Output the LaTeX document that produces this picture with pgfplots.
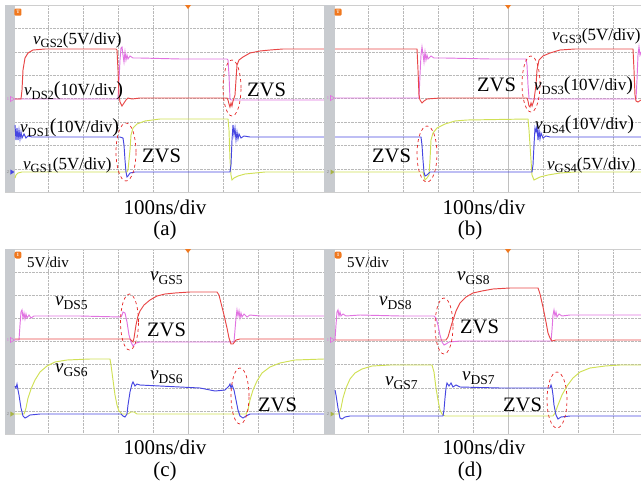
\documentclass[border=0pt]{standalone}
\usepackage{pgfplots}
\pgfplotsset{compat=1.18}
\usepackage{fontspec}
\setmainfont{Liberation Serif}
\definecolor{redc}{RGB}{232,70,70}
\definecolor{pinkc}{RGB}{225,115,225}
\definecolor{bluec}{RGB}{70,70,225}
\definecolor{yelc}{RGB}{208,224,85}
\definecolor{barc}{RGB}{200,203,207}
\definecolor{gridc}{RGB}{185,185,185}
\definecolor{ellc}{RGB}{228,35,35}
\definecolor{orangec}{RGB}{240,120,30}
\newcommand{\lv}[1]{\textit{v}\raisebox{-0.2em}{\fontsize{12.5}{12}\selectfont #1}}
\newcommand{\lw}[1]{\textit{v}\raisebox{-0.2em}{\fontsize{13.5}{13}\selectfont #1}}
\newcommand{\lfa}{\fontsize{17}{17}\selectfont}
\newcommand{\lfb}{\fontsize{19}{19}\selectfont}
\newcommand{\zf}{\fontsize{20.5}{20.5}\selectfont}
\newcommand{\bp}[1]{{\fontsize{20}{20}\selectfont #1}}
\pgfplotsset{osc/.style={scale only axis, y dir=reverse, clip=false,
  axis line style={draw=gridc!70, line width=0.6pt},
  major tick length=0pt, xticklabels={}, yticklabels={},
  grid=major, major grid style={densely dotted, gridc, line width=0.6pt},
  every axis plot/.append style={line width=0.95pt, mark=none}}}
\begin{document}
\begin{tikzpicture}
\path[use as bounding box] (0,0) rectangle (641pt,-487pt);
% ---------------- panel (a)
\begin{axis}[osc, at={(5pt,-5pt)}, anchor=north west, width=319pt, height=187pt,
  xmin=5, xmax=324, ymin=5, ymax=192,
  xtick={48,83,118,153,223,258,293}, ytick={28.4,51.8,75.2,98.6,122,145.4,168.8}]
\fill[barc] (axis cs:5,5) rectangle (axis cs:15,192);
\draw[gridc!90, line width=0.6pt] (axis cs:188,5) -- (axis cs:188,192);
\addplot[pinkc] coordinates {(15,99) (118,99) (119,80) (120,60) (121,48) (122,47) (123,55) (124,62) (125,52) (126,60) (127,55) (128,59) (130,56) (133,58) (140,58) (180,59) (227,59) (228,60) (229,75) (230,99) (231,100) (324,100)};
\addplot[redc] coordinates {(15,99) (21,99) (22,90) (23,70) (25,58) (28,53) (33,50) (45,49) (116,49) (117,50) (118,70) (119,95) (120,102) (122,106) (124,103) (126,100) (128,98) (132,99) (140,98) (227,98) (228,100) (229,104) (230,107) (231,103) (232,106) (233,101) (235,95) (236,80) (237,65) (239,60) (243,57) (250,53) (260,51) (270,50) (283,49) (324,49)};
\addplot[yelc] coordinates {(15,178) (16,175) (18,173) (22,172) (127,172) (128,170) (130,150) (131,135) (133,128) (137,124) (145,121) (160,119) (228,119) (229,130) (230,160) (231,175) (232,180) (234,178) (238,176) (245,174) (255,173) (265,172) (324,172)};
\addplot[bluec] coordinates {(15,125) (16,140) (17,128) (18,140) (19,130) (20,139) (21,132) (22,138) (24,134) (26,138) (28,136) (32,137) (60,137) (120,137) (123,138) (124,145) (125,160) (126,172) (127,177) (128,176) (130,173) (135,172) (230,172) (231,165) (232,140) (233,125) (234,135) (235,128) (236,140) (237,132) (238,139) (239,134) (241,138) (244,136) (250,137) (324,137)};
\draw[ellc, dashed, line width=0.7pt] (axis cs:232,88) ellipse [x radius=9pt, y radius=28pt];
\draw[ellc, dashed, line width=0.7pt] (axis cs:126,152) ellipse [x radius=10pt, y radius=29pt];
\node[anchor=west, inner sep=0] at (axis cs:33,40) {\lfa\lv{GS2}(5V/div)};
\node[anchor=west, inner sep=0] at (axis cs:24,91) {\lfa\lv{DS2}\bp{(}10V/div\bp{)}};
\node[anchor=west, inner sep=0] at (axis cs:247,90) {\zf ZVS};
\node[anchor=west, inner sep=0] at (axis cs:20,128) {\lfa\lv{DS1}\bp{(}10V/div\bp{)}};
\node[anchor=west, inner sep=0] at (axis cs:142,156) {\zf ZVS};
\node[anchor=west, inner sep=0] at (axis cs:23,165) {\lfa\lv{GS1}(5V/div)};
\fill[orangec, rounded corners=1pt] (axis cs:14.5,8.5) rectangle (axis cs:21.5,15.5);
\node[text=white, inner sep=0, font=\fontsize{5}{5}\selectfont\bfseries] at (axis cs:18,12) {T};
\fill[orangec] (axis cs:185,5) -- (axis cs:191,5) -- (axis cs:188,9) -- cycle;
\node[text=pinkc, inner sep=0, font=\fontsize{4.5}{4.5}\selectfont] at (axis cs:8,99) {1};
\draw[pinkc, line width=0.6pt] (axis cs:10.5,96.5) -- (axis cs:14.5,99) -- (axis cs:10.5,101.5) -- cycle;
\node[text=gray, inner sep=0, font=\fontsize{4.5}{4.5}\selectfont] at (axis cs:8,172) {2};
\fill[bluec] (axis cs:10.5,169.5) -- (axis cs:14.5,172) -- (axis cs:10.5,174.5) -- cycle;
\end{axis}
% ---------------- panel (b)
\begin{axis}[osc, at={(324pt,-5pt)}, anchor=north west, width=317pt, height=187pt,
  xmin=324, xmax=641, ymin=5, ymax=192,
  xtick={368,403,438,473,543,578,613}, ytick={28.4,51.8,75.2,98.6,122,145.4,168.8}]
\fill[barc] (axis cs:324,5) rectangle (axis cs:335,192);
\draw[gridc!90, line width=0.6pt] (axis cs:508,5) -- (axis cs:508,192);
\addplot[pinkc] coordinates {(335,98) (419,98) (420,75) (421,55) (422,47) (423,54) (424,62) (425,52) (426,60) (427,55) (428,59) (431,56) (434,58) (445,58) (490,59) (526,59) (527,65) (528,85) (529,98) (530,99) (636,99) (637,80) (638,55) (639,47) (640,55) (641,52)};
\addplot[redc] coordinates {(335,49) (417,49) (418,70) (419,95) (420,100) (422,103) (424,101) (427,99) (440,98) (527,98) (528,101) (529,106) (530,107) (531,103) (532,106) (534,100) (536,85) (537,70) (539,60) (543,56) (550,53) (560,50) (575,49) (633,49) (634,70) (635,95) (636,101) (638,102) (641,100)};
\addplot[yelc] coordinates {(335,172) (423,172) (424,176) (425,180) (427,178) (429,175) (430,160) (431,140) (433,133) (437,128) (445,124) (455,121) (467,120) (528,119) (529,130) (531,160) (532,175) (534,180) (536,179) (540,177) (548,175) (560,173) (575,172) (641,172)};
\addplot[bluec] coordinates {(335,137) (421,137) (422,145) (423,160) (424,172) (425,176) (427,175) (430,172) (440,172) (532,172) (533,165) (534,145) (535,128) (536,132) (537,126) (538,140) (539,130) (540,139) (541,133) (543,138) (546,136) (550,137) (641,137)};
\draw[ellc, dashed, line width=0.7pt] (axis cs:531,84) ellipse [x radius=9pt, y radius=28pt];
\draw[ellc, dashed, line width=0.7pt] (axis cs:427,154) ellipse [x radius=10pt, y radius=28pt];
\node[anchor=west, inner sep=0] at (axis cs:552,36) {\lfa\lv{GS3}(5V/div)};
\node[anchor=west, inner sep=0] at (axis cs:477,85) {\zf ZVS};
\node[anchor=west, inner sep=0] at (axis cs:534,86) {\lfa\lv{DS3}\bp{(}10V/div\bp{)}};
\node[anchor=west, inner sep=0] at (axis cs:535,125) {\lfa\lv{DS4}\bp{(}10V/div\bp{)}};
\node[anchor=west, inner sep=0] at (axis cs:372,156) {\zf ZVS};
\node[anchor=west, inner sep=0] at (axis cs:547,165) {\lfa\lv{GS4}(5V/div)};
\fill[orangec, rounded corners=1pt] (axis cs:334.5,8.5) rectangle (axis cs:341.5,15.5);
\node[text=white, inner sep=0, font=\fontsize{5}{5}\selectfont\bfseries] at (axis cs:338,12) {T};
\fill[orangec] (axis cs:505,5) -- (axis cs:511,5) -- (axis cs:508,9) -- cycle;
\node[text=pinkc, inner sep=0, font=\fontsize{4.5}{4.5}\selectfont] at (axis cs:328,98) {1};
\draw[pinkc, line width=0.6pt] (axis cs:330.5,95.5) -- (axis cs:334.5,98) -- (axis cs:330.5,100.5) -- cycle;
\node[text=gray, inner sep=0, font=\fontsize{4.5}{4.5}\selectfont] at (axis cs:328,172) {2};
\fill[yelc!80!black] (axis cs:330.5,169.5) -- (axis cs:334.5,172) -- (axis cs:330.5,174.5) -- cycle;
\end{axis}
% ---------------- panel (c)
\begin{axis}[osc, at={(5pt,-249pt)}, anchor=north west, width=319pt, height=185pt,
  xmin=5, xmax=324, ymin=249, ymax=434,
  xtick={48,83,118,153,223,258,293}, ytick={272.1,295.2,318.4,341.5,364.6,387.8,410.9}]
\fill[barc] (axis cs:5,249) rectangle (axis cs:15,434);
\draw[gridc!90, line width=0.6pt] (axis cs:188,249) -- (axis cs:188,434);
\addplot[pinkc] coordinates {(15,340) (19,340) (20,325) (21,312) (22,310) (23,318) (24,313) (25,319) (26,314) (27,318) (29,315) (31,318) (34,316) (40,316) (80,316) (121,317) (122,315) (123,312) (125,313) (127,322) (129,335) (131,342) (133,346) (136,343) (140,342) (232,342) (234,342) (235,330) (236,318) (237,310) (238,316) (239,311) (240,318) (241,313) (242,317) (244,314) (247,317) (250,315) (260,316) (324,316)};
\addplot[redc] coordinates {(15,339) (130,339) (132,341) (133,342) (134,338) (136,325) (138,316) (140,311) (144,305) (150,300) (157,296) (165,294) (175,293) (190,292) (217,292) (219,295) (221,303) (224,315) (227,328) (229,338) (231,344) (233,344) (236,340) (240,339) (324,339)};
\addplot[yelc] coordinates {(15,414) (24,414) (26,408) (28,398) (31,389) (35,380) (40,372) (47,366) (55,362) (67,360) (90,359) (110,359) (111,365) (113,380) (115,395) (117,405) (119,411) (122,414) (128,414) (131,412) (134,412) (137,414) (150,414) (246,414) (248,410) (250,400) (253,390) (257,381) (262,373) (270,367) (280,363) (295,360) (324,359)};
\addplot[bluec] coordinates {(15,386) (16,388) (17,384) (18,390) (19,395) (21,408) (23,416) (25,418) (27,417) (30,415) (40,414) (121,414) (123,416) (125,417) (127,414) (128,405) (130,392) (132,384) (133,382) (135,386) (137,384) (140,385) (160,386) (200,388) (215,391) (225,390) (229,386) (230,384) (231,388) (232,385) (234,390) (236,400) (238,410) (240,416) (243,418) (246,416) (250,414) (324,414)};
\draw[ellc, dashed, line width=0.7pt] (axis cs:129.5,322) ellipse [x radius=9pt, y radius=28pt];
\draw[ellc, dashed, line width=0.7pt] (axis cs:240,396) ellipse [x radius=9pt, y radius=28pt];
\node[anchor=west, inner sep=0] at (axis cs:27,262) {\fontsize{15}{15}\selectfont 5V/div};
\node[anchor=west, inner sep=0] at (axis cs:150,278) {\lfb\lw{GS5}};
\node[anchor=west, inner sep=0] at (axis cs:55,303) {\lfb\lw{DS5}};
\node[anchor=west, inner sep=0] at (axis cs:147,330) {\zf ZVS};
\node[anchor=west, inner sep=0] at (axis cs:55,370) {\lfb\lw{GS6}};
\node[anchor=west, inner sep=0] at (axis cs:150,377) {\lfb\lw{DS6}};
\node[anchor=west, inner sep=0] at (axis cs:258,405) {\zf ZVS};
\fill[orangec, rounded corners=2pt] (axis cs:14.5,251.5) rectangle (axis cs:21.5,258.5);
\node[text=white, inner sep=0, font=\fontsize{5}{5}\selectfont\bfseries] at (axis cs:18,255) {1};
\fill[orangec] (axis cs:185,249) -- (axis cs:191,249) -- (axis cs:188,253) -- cycle;
\node[text=pinkc, inner sep=0, font=\fontsize{4.5}{4.5}\selectfont] at (axis cs:8,340) {1};
\draw[pinkc, line width=0.6pt] (axis cs:10.5,337.5) -- (axis cs:14.5,340) -- (axis cs:10.5,342.5) -- cycle;
\node[text=gray, inner sep=0, font=\fontsize{4.5}{4.5}\selectfont] at (axis cs:8,414) {2};
\fill[yelc!80!black] (axis cs:10.5,411.5) -- (axis cs:14.5,414) -- (axis cs:10.5,416.5) -- cycle;
\end{axis}
% ---------------- panel (d)
\begin{axis}[osc, at={(324pt,-249pt)}, anchor=north west, width=317pt, height=185pt,
  xmin=324, xmax=641, ymin=249, ymax=434,
  xtick={368,403,438,473,543,578,613}, ytick={272.1,295.2,318.4,341.5,364.6,387.8,410.9}]
\fill[barc] (axis cs:324,249) rectangle (axis cs:335,434);
\draw[gridc!90, line width=0.6pt] (axis cs:508,249) -- (axis cs:508,434);
\addplot[pinkc] coordinates {(335,340) (336,325) (337,312) (338,310) (339,316) (340,312) (341,316) (343,314) (346,316) (360,315) (400,316) (434,316) (436,318) (438,325) (440,335) (442,342) (444,345) (446,344) (449,342) (460,341) (551,341) (552,330) (553,315) (554,310) (555,316) (556,312) (557,317) (559,314) (562,316) (570,315) (641,315)};
\addplot[redc] coordinates {(335,340) (446,340) (448,337) (450,330) (452,323) (456,311) (460,303) (466,297) (473,293) (482,291) (493,289) (510,288) (538,288) (540,294) (543,307) (546,322) (548,333) (550,338) (552,341) (556,340) (641,340)};
\addplot[yelc] coordinates {(335,414) (339,414) (341,408) (343,398) (346,388) (350,379) (355,373) (362,369) (372,366) (390,365) (432,365) (434,372) (436,388) (438,400) (440,410) (442,414) (445,416) (553,416) (555,413) (558,405) (562,395) (567,386) (573,378) (580,372) (590,368) (605,366) (620,365) (641,365)};
\addplot[bluec] coordinates {(335,390) (336,395) (338,408) (340,418) (342,419) (345,417) (350,416) (443,416) (444,410) (445,398) (446,388) (447,383) (449,386) (451,383) (453,387) (456,385) (460,387) (500,388) (550,388) (551,385) (552,388) (553,395) (554,405) (556,415) (558,419) (561,417) (570,416) (641,416)};
\draw[ellc, dashed, line width=0.7pt] (axis cs:444,326) ellipse [x radius=9pt, y radius=28pt];
\draw[ellc, dashed, line width=0.7pt] (axis cs:557,400) ellipse [x radius=10pt, y radius=28pt];
\node[anchor=west, inner sep=0] at (axis cs:347,262) {\fontsize{15}{15}\selectfont 5V/div};
\node[anchor=west, inner sep=0] at (axis cs:457,278) {\lfb\lw{GS8}};
\node[anchor=west, inner sep=0] at (axis cs:379,303) {\lfb\lw{DS8}};
\node[anchor=west, inner sep=0] at (axis cs:460,327) {\zf ZVS};
\node[anchor=west, inner sep=0] at (axis cs:385,383) {\lfb\lw{GS7}};
\node[anchor=west, inner sep=0] at (axis cs:462,378) {\lfb\lw{DS7}};
\node[anchor=west, inner sep=0] at (axis cs:503,405) {\zf ZVS};
\fill[orangec, rounded corners=2pt] (axis cs:334.5,251.5) rectangle (axis cs:341.5,258.5);
\node[text=white, inner sep=0, font=\fontsize{5}{5}\selectfont\bfseries] at (axis cs:338,255) {1};
\fill[orangec] (axis cs:505,249) -- (axis cs:511,249) -- (axis cs:508,253) -- cycle;
\node[text=pinkc, inner sep=0, font=\fontsize{4.5}{4.5}\selectfont] at (axis cs:328,340) {1};
\draw[pinkc, line width=0.6pt] (axis cs:330.5,337.5) -- (axis cs:334.5,340) -- (axis cs:330.5,342.5) -- cycle;
\node[text=gray, inner sep=0, font=\fontsize{4.5}{4.5}\selectfont] at (axis cs:328,414) {2};
\fill[yelc!80!black] (axis cs:330.5,411.5) -- (axis cs:334.5,414) -- (axis cs:330.5,416.5) -- cycle;
\end{axis}
% ---------------- captions
\node[font=\fontsize{21}{21}\selectfont, inner sep=0] at (165pt,-207pt) {100ns/div};
\node[font=\fontsize{21}{21}\selectfont, inner sep=0] at (165pt,-230pt) {(a)};
\node[font=\fontsize{21}{21}\selectfont, inner sep=0] at (484pt,-207pt) {100ns/div};
\node[font=\fontsize{21}{21}\selectfont, inner sep=0] at (470pt,-230pt) {(b)};
\node[font=\fontsize{21}{21}\selectfont, inner sep=0] at (165pt,-447pt) {100ns/div};
\node[font=\fontsize{21}{21}\selectfont, inner sep=0] at (165pt,-471pt) {(c)};
\node[font=\fontsize{21}{21}\selectfont, inner sep=0] at (484pt,-447pt) {100ns/div};
\node[font=\fontsize{21}{21}\selectfont, inner sep=0] at (470pt,-471pt) {(d)};
\end{tikzpicture}
\end{document}
